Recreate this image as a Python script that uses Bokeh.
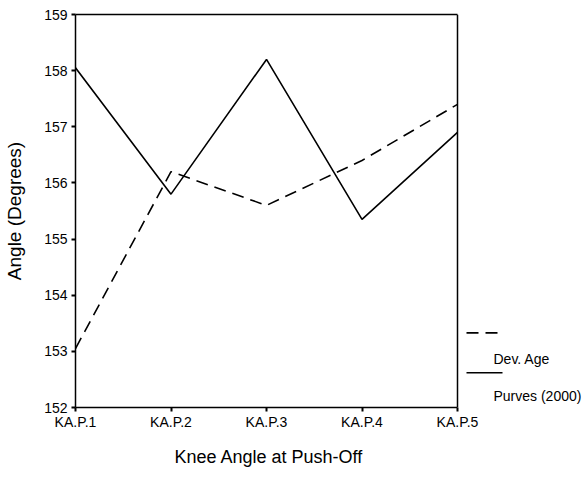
from bokeh.plotting import figure
from bokeh.models import Range1d, FixedTicker, LinearAxis, Span, Title
from bokeh.core.properties import value
from bokeh.embed import file_html
from bokeh.resources import INLINE

categories = ["KA.P.1", "KA.P.2", "KA.P.3", "KA.P.4", "KA.P.5"]
dev_age = [153.05, 156.2, 155.6, 156.4, 157.4]
purves = [158.05, 155.8, 158.2, 155.35, 156.9]
y_ticks = [152, 153, 154, 155, 156, 157, 158, 159]
legend_names = ["Dev. Age", "Purves (2000)"]
x_title = "Knee Angle at Push-Off"
y_title = "Angle (Degrees)"

FONT = "Liberation Sans"
DASH = "12 7"
xs = list(range(len(categories)))
X0, X1 = 0, len(categories) - 1
Y0, Y1 = y_ticks[0], y_ticks[-1]

# pixel geometry of the boxed plot area; the frame continues to the right edge
W, H = 586, 478
BOX_L, BOX_R, BOX_T, BOX_B = 75, 457, 14, 409
x_end = X0 + (X1 - X0) * (W - BOX_L) / (BOX_R - BOX_L)

p = figure(width=W, height=H, output_backend="svg", toolbar_location=None,
           x_range=Range1d(X0, x_end), y_range=Range1d(Y0, Y1),
           min_border_left=BOX_L, min_border_right=0, min_border_top=BOX_T,
           min_border_bottom=H - BOX_B)
p.background_fill_color = "white"
p.border_fill_color = "white"
p.outline_line_color = None
p.xgrid.visible = False
p.ygrid.visible = False

p.line(xs, dev_age, line_color="black", line_width=1.6, line_dash=DASH)
p.line(xs, purves, line_color="black", line_width=1.6)

ax = p.xaxis[0]
ax.bounds = (X0, X1)
ax.ticker = FixedTicker(ticks=xs)
ax.major_label_overrides = {i: c for i, c in enumerate(categories)}
ax.major_label_standoff = 2

ay = p.yaxis[0]
ay.ticker = FixedTicker(ticks=y_ticks)
ay.axis_label = y_title
ay.axis_label_standoff = 16
ay.major_label_standoff = 4
ay.axis_label_text_font_size = "19px"

for a in (ax, ay):
    a.axis_line_color = "black"
    a.axis_line_width = 1.5
    a.major_tick_line_color = "black"
    a.major_tick_line_width = 2
    a.major_tick_out = 4
    a.major_tick_in = 0
    a.minor_tick_line_color = None
    a.major_label_text_font = FONT
    a.major_label_text_font_size = "14px"
    a.major_label_text_color = "black"
    a.axis_label_text_font = FONT
    a.axis_label_text_font_style = "normal"
    a.axis_label_text_color = "black"

# x-axis title, centred under the boxed area
p.add_layout(Title(text=x_title, align="left", offset=99, standoff=24,
                   text_font=FONT, text_font_size="18px", text_font_style="normal",
                   text_color="black"), "below")

# top and right edges of the box
top = LinearAxis(bounds=(X0, X1), ticker=FixedTicker(ticks=[]), axis_line_color="black",
                 axis_line_width=1.5, major_tick_line_color=None, minor_tick_line_color=None,
                 major_label_text_font_size="0px")
p.add_layout(top, "above")
p.add_layout(Span(location=X1, dimension="height", line_color="black", line_width=1.5))

# legend (sample line above its label), placed by pixel position
def px_x(px):
    return X0 + (px - BOX_L) * (X1 - X0) / (BOX_R - BOX_L)

def px_y(py):
    return Y1 - (py - BOX_T) * (Y1 - Y0) / (BOX_B - BOX_T)

line_py = [334, 374]
text_py = [360, 397]
dashes = [DASH, "solid"]
for name, dash, yl, yt in zip(legend_names, dashes, line_py, text_py):
    p.line([px_x(466), px_x(502)], [px_y(yl), px_y(yl)], line_color="black",
           line_width=1.6, line_dash=dash)
    p.text([px_x(493)], [px_y(yt)], text=[name], text_font=value(FONT),
           text_font_size="14px", text_color="black", text_baseline="middle",
           text_align="left")

open("out.html", "w").write(file_html(p, INLINE))
